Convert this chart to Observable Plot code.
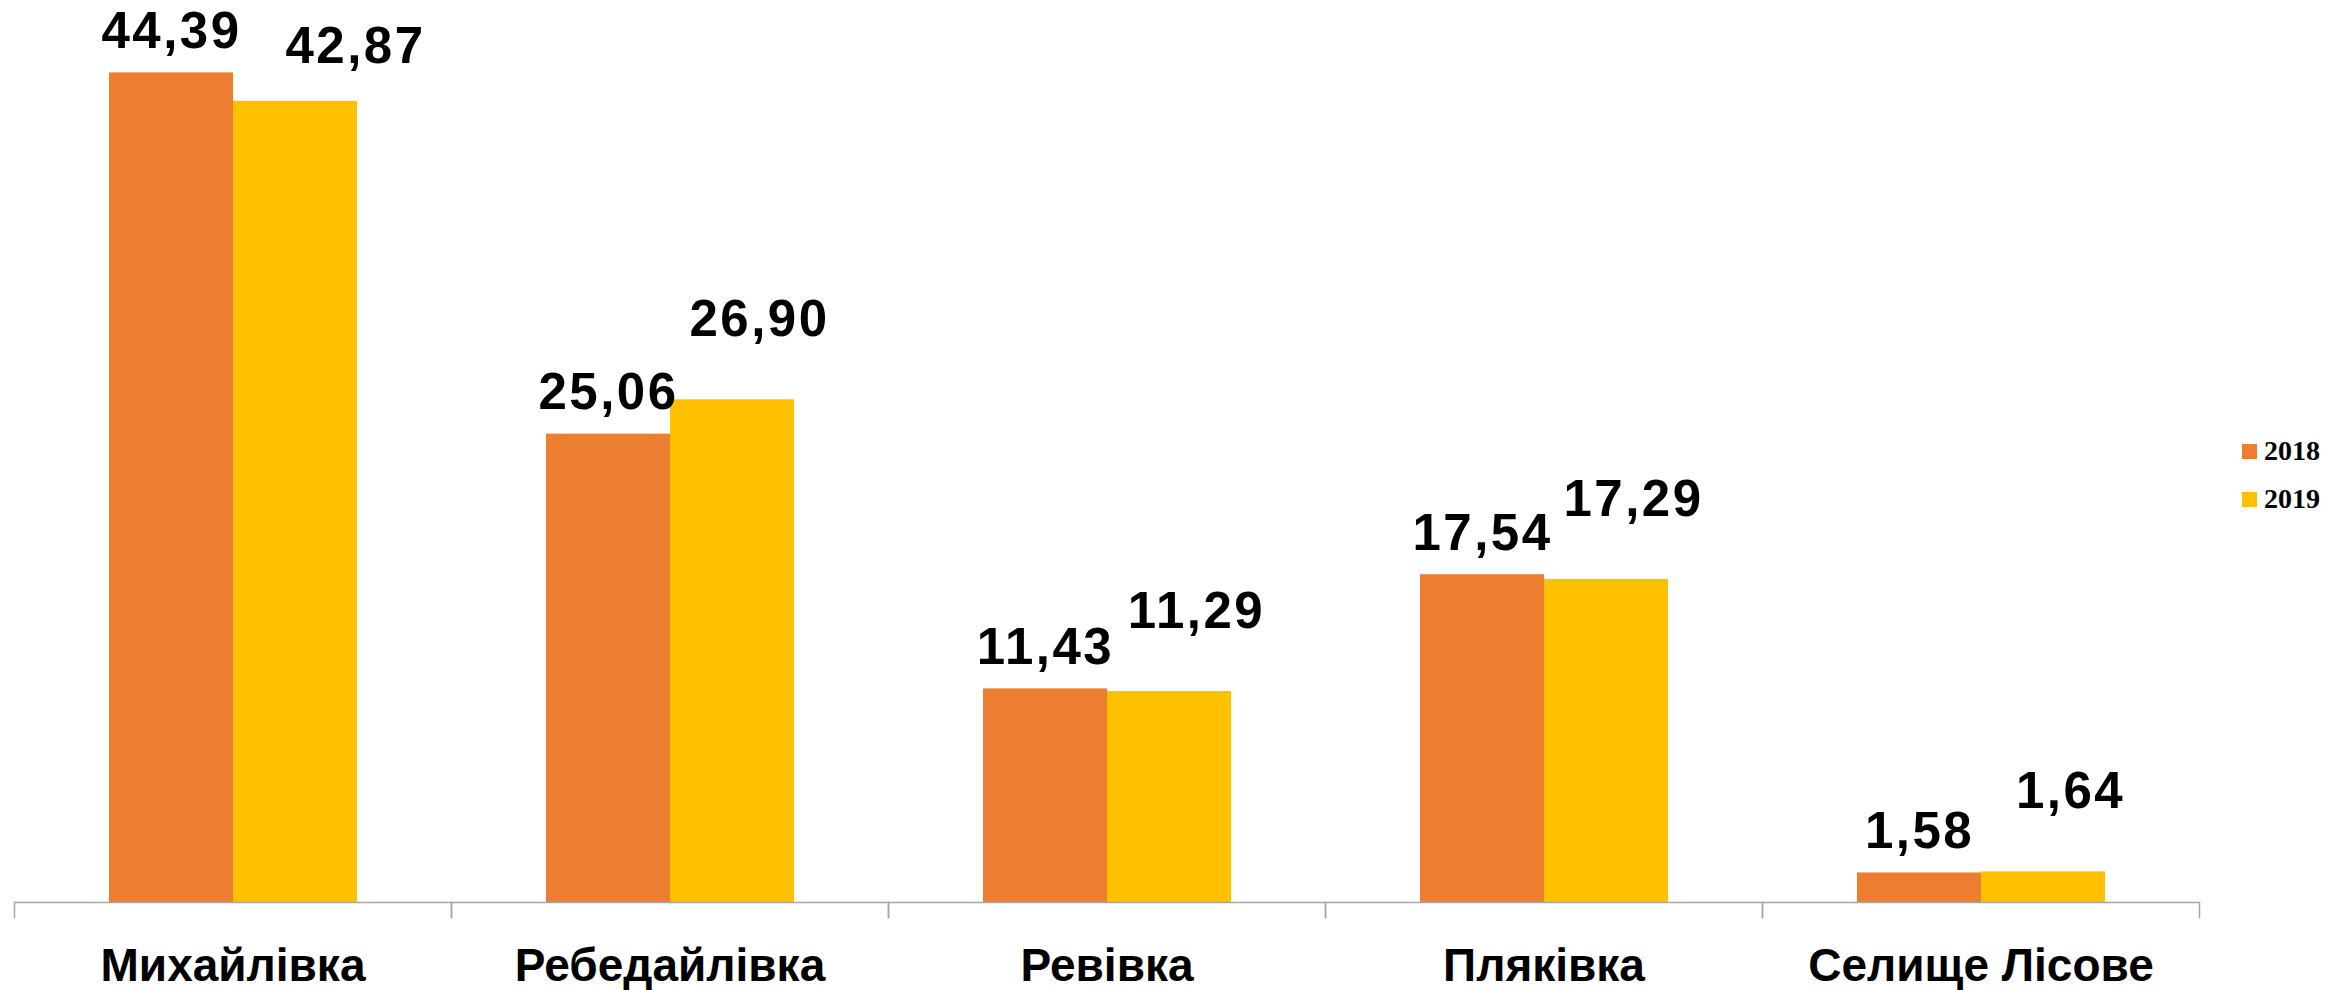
<!DOCTYPE html>
<html><head><meta charset="utf-8">
<script src="https://cdn.jsdelivr.net/npm/d3@7"></script>
<script src="https://cdn.jsdelivr.net/npm/@observablehq/plot@0.6"></script>
<style>
html,body{margin:0;padding:0;background:#fff;}
#wrap{position:relative;width:2351px;height:990px;overflow:hidden;}
#chart{position:absolute;left:0;top:0;}
#legend{position:absolute;left:2242px;top:427px;font-family:"Liberation Serif","Times New Roman",serif;font-weight:bold;font-size:28px;color:#000;}
.item{display:flex;align-items:center;height:48px;}
.sw{width:15px;height:15px;margin-right:7px;}
</style></head><body><div id="wrap"><div id="chart"></div><div id="legend"></div></div>
<script>
const categories = ["Михайлівка", "Ребедайлівка", "Ревівка", "Пляківка", "Селище Лісове"];
const years = ["2018", "2019"];
const values2018 = [44.39, 25.06, 11.43, 17.54, 1.58];
const values2019 = [42.87, 26.90, 11.29, 17.29, 1.64];
const colors = ["#ED7D31", "#FFC000"];

const data = categories.flatMap((c, i) => [
  {category: c, year: years[0], value: values2018[i]},
  {category: c, year: years[1], value: values2019[i]}
]);
const fmt = d3.formatLocale({decimal: ",", thousands: " ", grouping: [3], currency: ["", ""]}).format(".2f");

const W = 2351, H = 990, ML = 13, MR = 152, MT = 61, MB = 88;
const tickLen = 15;
const plotH = H - MT - MB;
const font = "'Liberation Sans', Arial, sans-serif";
const axisColor = "#a6a6a6";

const labelStyle = {fx: "category", x: "year", y: "value", text: d => fmt(d.value),
  fontSize: 51, fontWeight: "bold", fill: "#000", fontFamily: font};

const chart = Plot.plot({
  width: W, height: H,
  marginLeft: ML, marginRight: MR, marginTop: MT, marginBottom: MB,
  style: {background: "transparent", overflow: "visible", fontFamily: font},
  fx: {domain: categories, padding: 0, label: null},
  x: {domain: years, paddingInner: 0, paddingOuter: 0.749, axis: null},
  y: {domain: [0, 45], axis: null},
  color: {domain: years, range: colors},
  marks: [
    Plot.barY(data, {fx: "category", x: "year", y: "value", fill: "year"}),
    Plot.ruleY([0], {stroke: axisColor, strokeWidth: 1.5}),
    Plot.frame({anchor: "left", stroke: axisColor, strokeWidth: 1.5, insetTop: plotH, insetBottom: -tickLen}),
    Plot.frame({anchor: "right", stroke: axisColor, strokeWidth: 1.5, insetTop: plotH, insetBottom: -tickLen}),
    Plot.text(data.filter(d => d.year === years[0]), {...labelStyle, dy: -41}),
    Plot.text(data.filter(d => d.year === years[1] && d.category !== categories[0]), {...labelStyle, dx: 27, dy: -80}),
    Plot.text(data.filter(d => d.year === years[1] && d.category === categories[0]), {...labelStyle, dx: 60, dy: -55}),
    Plot.axisFx({anchor: "bottom", tickSize: 0, tickPadding: 46, fontSize: 46, fontWeight: "bold",
      fontFamily: font, fill: "#000", label: null})
  ]
});
document.getElementById("chart").appendChild(chart);
d3.select(chart).selectAll("text").style("letter-spacing", function() {
  return /\d,\d/.test(this.textContent) ? "2.5px" : null;
});

const legend = d3.select("#legend");
years.forEach((y, i) => {
  const item = legend.append("div").attr("class", "item");
  item.append("div").attr("class", "sw").style("background", colors[i]);
  item.append("span").text(y);
});
</script>
</body></html>
